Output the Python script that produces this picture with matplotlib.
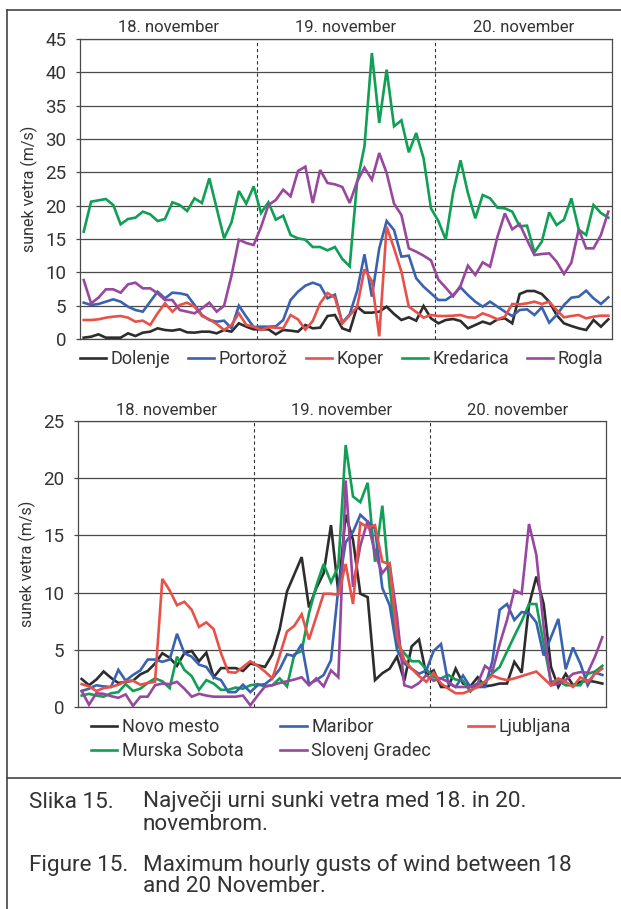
import numpy as np
import matplotlib
matplotlib.use("Agg")
import matplotlib.pyplot as plt
from matplotlib.lines import Line2D

plt.rcParams['font.family'] = ['Roboto', 'DejaVu Sans']

# hourly max gusts (m/s), 18.-20. november, 72 hours
days = ["18. november", "19. november", "20. november"]

dolenje = [0.2, 0.35, 0.7, 0.2, 0.2, 0.2, 0.85, 0.45, 0.95, 1.1, 1.6, 1.35,
           1.25, 1.45, 1.0, 0.95, 1.1, 1.1, 0.85, 1.35, 1.1, 2.35, 1.85, 1.45,
           1.45, 1.45, 0.7, 1.35, 1.25, 1.1, 2.1, 1.6, 1.7, 3.45, 3.6, 1.6,
           1.2, 4.85, 3.95, 3.95, 4.1, 4.85, 3.75, 2.85, 3.25, 2.75, 4.95, 3.1,
           2.35, 2.85, 3.0, 2.7, 1.6, 2.1, 2.6, 2.25, 2.95, 3.1, 2.35, 6.75,
           7.2, 7.2, 6.75, 5.6, 3.6, 2.35, 1.95, 1.6, 1.35, 2.85, 1.85, 2.95]
portoroz = [5.45, 5.1, 5.25, 5.6, 5.95, 5.6, 4.85, 4.35, 4.1, 5.6, 7.1, 6.1,
            6.95, 6.85, 6.6, 5.1, 3.6, 2.85, 2.6, 2.75, 1.6, 5.0, 3.35, 1.8,
            1.85, 1.85, 1.9, 2.85, 5.85, 7.1, 8.0, 8.45, 8.05, 6.1, 6.65, 2.45,
            3.7, 7.2, 12.7, 6.35, 13.6, 17.7, 16.35, 12.35, 12.5, 9.1, 7.85, 6.85,
            5.85, 5.85, 6.6, 7.75, 6.6, 5.6, 4.85, 5.6, 4.85, 4.1, 3.45, 4.35,
            4.45, 3.6, 4.75, 2.45, 3.6, 5.1, 6.2, 6.35, 7.25, 6.1, 5.25, 6.25]
koper = [2.85, 2.85, 2.95, 3.2, 3.35, 3.45, 3.2, 2.6, 2.75, 2.1, 3.85, 5.35,
         4.1, 5.1, 5.45, 4.85, 3.45, 2.95, 2.25, 1.35, 2.1, 3.85, 2.1, 1.85,
         1.35, 1.75, 1.7, 1.6, 3.6, 2.95, 1.4, 2.7, 5.35, 6.9, 6.2, 2.35,
         3.55, 4.8, 10.45, 8.7, 0.4, 16.85, 13.6, 10.1, 4.85, 4.05, 3.2, 3.6,
         3.45, 3.45, 3.5, 3.6, 3.25, 3.2, 3.85, 3.45, 2.95, 3.35, 5.25, 5.2,
         5.35, 5.6, 5.25, 5.6, 4.35, 3.25, 3.45, 3.6, 3.1, 3.35, 3.5, 3.5]
kredarica = [16.1, 20.6, 20.8, 21.0, 20.1, 17.2, 18.0, 18.2, 19.1, 18.7, 17.7, 18.0,
             20.5, 20.1, 19.2, 21.1, 20.4, 24.1, 19.6, 15.1, 17.5, 22.2, 20.3, 22.9,
             18.9, 20.5, 17.9, 18.5, 15.6, 15.1, 14.9, 13.8, 13.8, 13.3, 13.8, 12.0,
             10.9, 23.5, 28.9, 42.9, 32.4, 40.4, 31.9, 32.8, 28.0, 30.9, 27.1, 19.6,
             17.7, 14.9, 22.0, 26.8, 21.9, 18.1, 21.6, 21.1, 19.7, 19.6, 19.1, 16.9,
             17.0, 13.0, 14.6, 19.0, 17.1, 17.9, 21.1, 16.4, 15.6, 20.1, 18.9, 18.2]
rogla = [8.85, 5.35, 6.2, 7.45, 7.45, 6.95, 8.2, 8.45, 7.6, 7.6, 6.85, 5.85,
         5.85, 4.35, 4.1, 3.85, 4.6, 5.45, 4.1, 5.0, 9.5, 14.9, 14.4, 14.1,
         16.8, 20.1, 20.85, 22.4, 21.4, 25.2, 25.85, 20.4, 25.35, 23.4, 23.2, 22.8,
         20.4, 23.6, 25.7, 23.9, 27.9, 24.9, 20.3, 18.6, 13.6, 13.1, 12.5, 11.8,
         8.9, 7.7, 6.4, 8.0, 11.0, 9.6, 11.5, 10.85, 15.35, 18.85, 16.45, 17.25,
         14.85, 12.6, 12.75, 12.85, 11.6, 9.75, 11.45, 16.45, 13.6, 13.6, 15.6, 19.1]

novo_mesto = [2.45, 1.9, 2.4, 3.1, 2.55, 2.1, 2.2, 2.3, 2.85, 3.15, 3.8, 4.7,
              4.3, 3.6, 4.7, 4.9, 4.0, 4.75, 2.6, 3.4, 3.4, 3.4, 3.15, 3.8,
              3.65, 3.5, 4.6, 6.8, 10.1, 11.6, 13.1, 8.7, 10.4, 11.7, 15.9, 10.0,
              16.8, 14.6, 9.9, 9.6, 2.35, 2.95, 3.35, 4.4, 2.3, 5.3, 5.9, 2.8,
              3.2, 1.75, 1.75, 3.35, 2.05, 1.8, 2.6, 1.8, 1.9, 2.05, 2.05, 3.95,
              3.0, 8.9, 11.4, 9.0, 3.5, 1.75, 2.9, 1.9, 2.2, 2.3, 2.2, 2.05]
maribor = [1.4, 1.6, 1.9, 1.8, 1.75, 3.25, 2.3, 2.8, 3.2, 4.15, 4.15, 3.95,
           4.15, 6.4, 4.7, 4.4, 3.7, 3.5, 2.6, 2.35, 1.3, 1.3, 1.95, 1.3,
           1.9, 2.0, 2.5, 3.3, 4.6, 4.45, 5.5, 2.0, 2.35, 2.8, 4.1, 10.4,
           14.4, 15.3, 16.8, 16.2, 15.6, 10.4, 8.9, 5.0, 3.8, 3.35, 2.9, 3.2,
           4.9, 5.5, 2.05, 1.75, 2.75, 1.75, 1.75, 1.75, 4.0, 8.5, 9.0, 7.6,
           8.3, 8.2, 7.4, 4.5, 6.1, 7.7, 3.3, 5.2, 3.8, 1.9, 3.0, 2.8]
ljubljana = [2.0, 1.8, 1.4, 1.65, 1.75, 1.95, 2.25, 2.3, 1.95, 2.1, 2.2, 11.2,
             10.2, 8.9, 9.2, 8.5, 7.0, 7.4, 6.8, 4.7, 3.05, 3.0, 3.5, 4.0,
             3.6, 3.1, 2.5, 4.5, 6.6, 7.1, 8.1, 5.9, 7.9, 9.9, 9.9, 9.8,
             12.5, 9.0, 16.1, 15.7, 15.9, 12.7, 12.5, 6.1, 4.1, 3.35, 2.7, 2.2,
             3.0, 2.05, 1.6, 1.2, 1.2, 1.45, 1.75, 2.2, 2.75, 2.5, 2.35, 2.5,
             2.7, 2.9, 3.1, 2.5, 1.9, 2.5, 2.2, 1.75, 2.6, 2.2, 2.9, 3.35]
murska_sobota = [1.0, 1.15, 1.0, 0.9, 1.2, 1.3, 2.0, 1.4, 1.6, 2.1, 2.5, 2.25,
                 1.65, 4.4, 3.25, 2.7, 1.5, 2.35, 2.05, 1.5, 1.5, 1.7, 1.6, 1.9,
                 2.0, 1.8, 1.9, 2.5, 1.8, 4.6, 4.9, 8.2, 10.6, 12.5, 10.9, 12.3,
                 22.9, 18.4, 17.9, 19.6, 12.7, 17.6, 10.5, 5.4, 4.7, 4.0, 4.0, 3.3,
                 2.6, 2.5, 2.8, 2.4, 2.3, 1.35, 2.0, 2.2, 2.95, 3.5, 4.85, 6.2,
                 7.5, 9.0, 9.0, 5.5, 2.2, 2.3, 1.9, 1.9, 1.9, 2.9, 3.1, 3.6]
slovenj_gradec = [1.4, 0.2, 1.2, 1.15, 0.95, 0.8, 1.1, 0.1, 0.9, 0.9, 1.9, 2.05,
                  2.0, 2.2, 1.6, 0.9, 1.15, 1.0, 0.9, 0.9, 0.9, 0.9, 1.0, 0.15,
                  1.0, 1.8, 1.9, 2.1, 2.25, 2.4, 2.6, 1.9, 2.5, 1.8, 3.2, 2.6,
                  19.8, 10.5, 14.1, 16.3, 13.4, 11.7, 12.5, 7.9, 1.9, 1.7, 2.1, 2.8,
                  2.3, 2.5, 2.2, 1.75, 1.75, 1.75, 2.05, 3.6, 3.1, 5.5, 7.6, 10.2,
                  9.9, 16.0, 13.3, 7.0, 1.9, 2.05, 2.35, 2.9, 3.05, 3.0, 4.4, 6.1]

top_series = [("Dolenje", dolenje, "#2d2d2d"),
              ("Portorož", portoroz, "#3a62b0"),
              ("Koper", koper, "#e8514a"),
              ("Kredarica", kredarica, "#0f9f55"),
              ("Rogla", rogla, "#98479e")]
# order chosen so a 3-column legend fills like the original
bottom_series = [("Novo mesto", novo_mesto, "#2d2d2d"),
                 ("Murska Sobota", murska_sobota, "#0f9f55"),
                 ("Maribor", maribor, "#3a62b0"),
                 ("Slovenj Gradec", slovenj_gradec, "#98479e"),
                 ("Ljubljana", ljubljana, "#e8514a")]
hours = np.arange(72) + 0.5

W, H = 621, 909
fig = plt.figure(figsize=(W / 100, H / 100), dpi=100)


def px_axes(left, top, right, bottom):
    return fig.add_axes([left / W, 1 - bottom / H, (right - left) / W, (bottom - top) / H])


def style_axes(ax, ymax, date_y):
    ax.set_xlim(0, 72)
    ax.set_ylim(0, ymax)
    ax.set_yticks(np.arange(0, ymax + 1, 5))
    ax.set_xticks([])
    ax.grid(axis="y", color="#4a4a4a", lw=0.9)
    ax.set_axisbelow(True)
    for s in ax.spines.values():
        s.set_color("#4a4a4a")
        s.set_linewidth(0.9)
    ax.tick_params(axis="y", length=3, width=0.9, color="#4a4a4a",
                   labelsize=13.5, labelcolor="#333333", pad=7)
    ax.set_ylabel("sunek vetra (m/s)", fontsize=11.5, color="#333333", labelpad=5)
    for d in (24, 48):
        ax.axvline(d, color="#333333", lw=0.8, ls=(0, (3, 2.5)), zorder=1)
    for k, lab in enumerate(days):
        ax.text(12 + 24 * k, date_y, lab, transform=ax.get_xaxis_transform(),
                ha="center", va="center", fontsize=12, color="#333333")


ax1 = px_axes(80, 39, 612, 339)
for name, vals, col in top_series:
    ax1.plot(hours, vals, color=col, lw=1.9, label=name, solid_joinstyle="miter")
style_axes(ax1, 45, 1.04)
ax1.legend(loc="center", bbox_to_anchor=(0.492, -0.067), ncol=5, frameon=False,
           fontsize=13, handlelength=1.45, handletextpad=0.25, columnspacing=1.0,
           labelcolor="#333333")

ax2 = px_axes(78, 421, 606, 707)
for name, vals, col in bottom_series:
    ax2.plot(hours, vals, color=col, lw=1.9, label=name, solid_joinstyle="miter")
style_axes(ax2, 25, 1.038)
ax2.legend(loc="center", bbox_to_anchor=(0.479, -0.112), ncol=3, frameon=False,
           fontsize=13, handlelength=1.45, handletextpad=0.25, columnspacing=2.05,
           labelspacing=0.35, labelcolor="#333333")

# outer frame and caption separator
fx = 7 / W
fig.add_artist(Line2D([fx, 1], [1 - 10 / H, 1 - 10 / H], color="#444444", lw=1.2))
fig.add_artist(Line2D([fx, fx], [1 - 10 / H, 0], color="#444444", lw=1.2))
fig.add_artist(Line2D([fx, 1], [1 - 778 / H, 1 - 778 / H], color="#444444", lw=1.2))

cap = dict(fontsize=16.2, color="#333333", va="center", ha="left")
fig.text(29 / W, 1 - 802 / H, "Slika 15.", **cap)
fig.text(143 / W, 1 - 802 / H, "Največji urni sunki vetra med 18. in 20.", **cap)
fig.text(143 / W, 1 - 824 / H, "novembrom.", **cap)
fig.text(29 / W, 1 - 865 / H, "Figure 15.", **cap)
fig.text(143 / W, 1 - 865 / H, "Maximum hourly gusts of wind between 18", **cap)
fig.text(143 / W, 1 - 887 / H, "and 20 November.", **cap)

fig.savefig("out.png", dpi=100)
